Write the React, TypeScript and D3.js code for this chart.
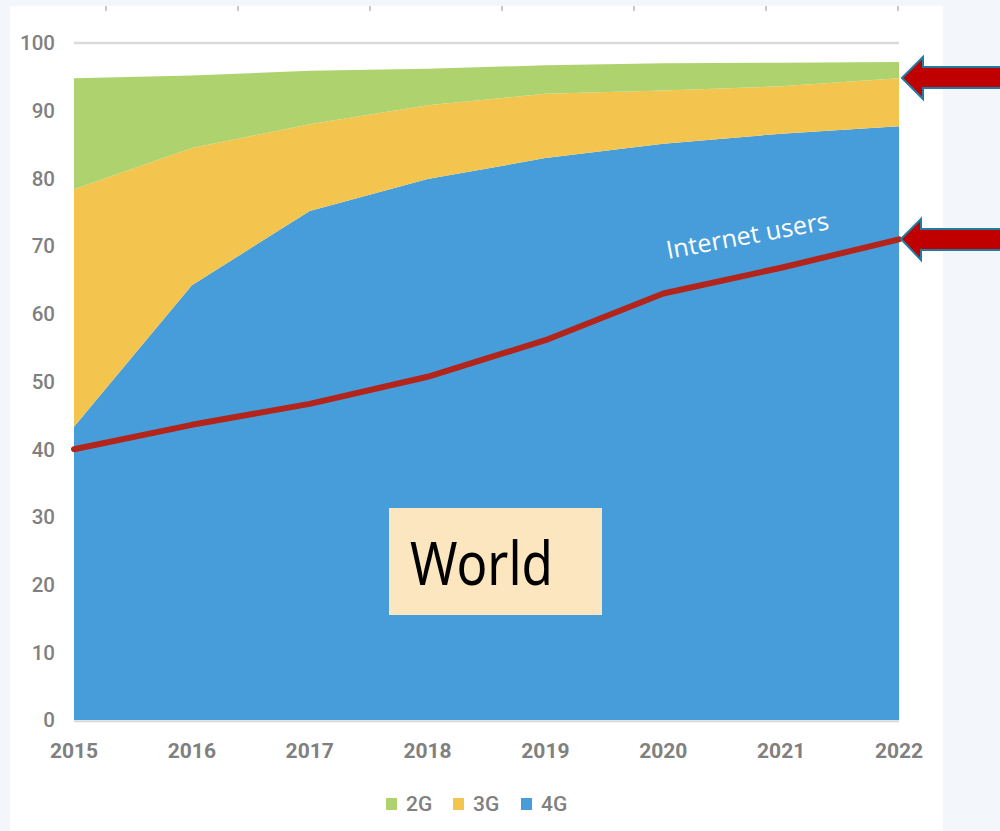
import React from "react";
import * as d3 from "d3";

const years = [2015, 2016, 2017, 2018, 2019, 2020, 2021, 2022];
const share4G = [43.3, 64.2, 75.2, 79.9, 83.0, 85.1, 86.6, 87.7];
const share3G = [35.1, 20.3, 12.8, 10.9, 9.5, 7.9, 7.0, 7.1];
const share2G = [16.4, 10.7, 7.9, 5.4, 4.2, 4.0, 3.5, 2.4];
const internetUsers = [40.0, 43.6, 46.7, 50.7, 56.1, 63.0, 66.8, 71.0];
const yTicks = [0, 10, 20, 30, 40, 50, 60, 70, 80, 90, 100];
const seriesKeys = ["4G", "3G", "2G"];
const legendKeys = ["2G", "3G", "4G"];
const colors: Record<string, string> = { "2G": "#aed36e", "3G": "#f4c54e", "4G": "#479dd9" };
const topTicks = [0, 1, 2, 3, 4, 5, 6];

const W = 1000;
const H = 831;
const left = 74;
const right = 899;
const top = 43;
const bottom = 720;

export default function App() {
  const x = d3.scaleLinear().domain([2015, 2022]).range([left, right]);
  const y = d3.scaleLinear().domain([0, 100]).range([bottom, top]);

  const rows = years.map((yr, i) => ({ year: yr, "4G": share4G[i], "3G": share3G[i], "2G": share2G[i] }));
  const stacked = d3.stack<any>().keys(seriesKeys)(rows);
  const area = d3
    .area<any>()
    .x((d) => x(d.data.year))
    .y0((d) => y(d[0]))
    .y1((d) => y(d[1]));
  const line = d3
    .line<number>()
    .x((_, i) => x(years[i]))
    .y((d) => y(d));

  const arrow = (tipX: number, tipY: number, headTop: number, headBot: number, shaftTop: number, shaftBot: number, headBack: number) =>
    `M${tipX},${tipY} L${headBack},${headTop} L${headBack},${shaftTop} L1010,${shaftTop} L1010,${shaftBot} L${headBack},${shaftBot} L${headBack},${headBot} Z`;

  return (
    <>
      <style>{`body{margin:0}`}</style>
      <svg width={W} height={H} style={{ display: "block" }}>
        <rect x={0} y={0} width={W} height={H} fill="#f3f7fb" />
        <rect x={10} y={6} width={933} height={H - 6} fill="#ffffff" />
        {topTicks.map((i) => (
          <line key={i} x1={106 + i * 132} x2={106 + i * 132} y1={6} y2={11} stroke="#c8c8c8" strokeWidth={2} />
        ))}
        <line x1={left} x2={right} y1={y(100)} y2={y(100)} stroke="#dadada" strokeWidth={2.5} />
        {stacked.map((s) => (
          <path key={s.key} d={area(s) || ""} fill={colors[s.key]} />
        ))}
        <line x1={left} x2={right} y1={bottom + 1.2} y2={bottom + 1.2} stroke="#d8d8d8" strokeWidth={2} />
        <path d={line(internetUsers) || ""} fill="none" stroke="#b3241a" strokeWidth={6} strokeLinecap="round" strokeLinejoin="round" />
        {yTicks.map((t) => (
          <text key={t} x={55} y={y(t)} dy="0.36em" textAnchor="end" fontFamily="Roboto, sans-serif" fontWeight={500} fontSize={20.5} fill="#808080">
            {t}
          </text>
        ))}
        {years.map((yr) => (
          <text key={yr} x={x(yr)} y={758} textAnchor="middle" fontFamily="Roboto, sans-serif" fontWeight={700} fontSize={21} fill="#808080">
            {yr}
          </text>
        ))}
        {legendKeys.map((k, i) => {
          const lx = [386, 453, 521][i];
          return (
            <g key={k}>
              <rect x={lx} y={798} width={11} height={12} fill={colors[k]} />
              <text x={lx + 20} y={811} fontFamily="Roboto, sans-serif" fontWeight={500} fontSize={21} fill="#808080">
                {k}
              </text>
            </g>
          );
        })}
        <text
          transform="translate(749,244) rotate(-10.5)"
          textAnchor="middle"
          fontFamily="'Open Sans', sans-serif"
          fontSize={25}
          fill="#ffffff"
          textLength={165}
          lengthAdjust="spacingAndGlyphs"
        >
          Internet users
        </text>
        <rect x={389} y={508} width={213} height={107} fill="#fce6bf" />
        <text x={410} y={585} fontFamily="'Noto Sans', sans-serif" fontSize={60} fill="#000000" textLength={143} lengthAdjust="spacingAndGlyphs">
          World
        </text>
        <path d={arrow(902, 78, 57, 99, 67, 88, 923)} fill="#c00000" stroke="#1f7ba0" strokeWidth={2} strokeLinejoin="miter" />
        <path d={arrow(901, 239, 219, 260, 229, 250, 921)} fill="#c00000" stroke="#1f7ba0" strokeWidth={2} strokeLinejoin="miter" />
      </svg>
    </>
  );
}
